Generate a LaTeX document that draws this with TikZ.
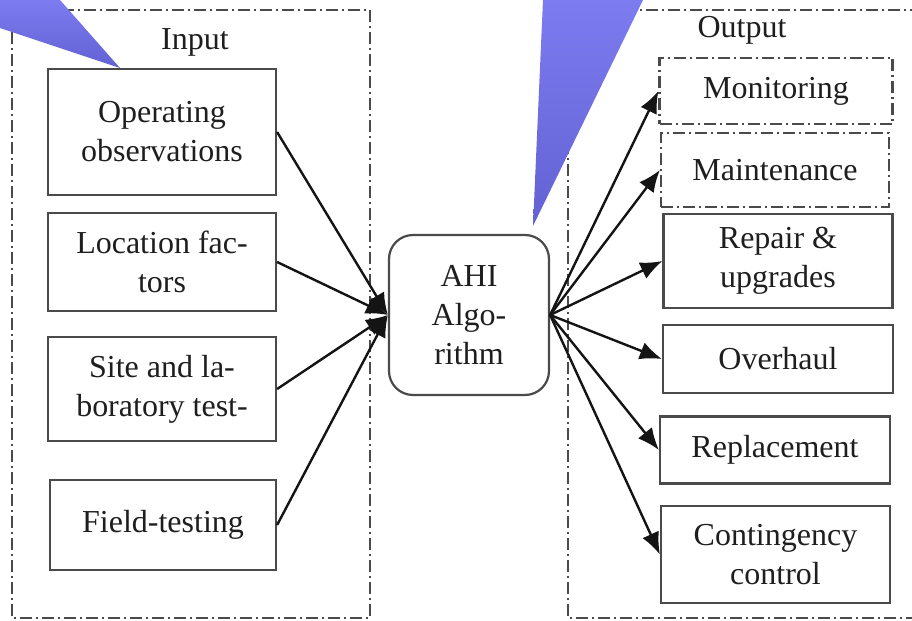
\documentclass[tikz,border=0pt]{standalone}
\usepackage{fontspec}
\setmainfont{Liberation Serif}
\usetikzlibrary{arrows.meta,positioning}
\definecolor{lnGray}{HTML}{141414}
\definecolor{bxGray}{HTML}{4A4A4A}
\definecolor{txGray}{HTML}{1E1E1E}
\definecolor{tailTop}{HTML}{7C7CF0}
\definecolor{tailBot}{HTML}{6262D4}

\begin{document}
\begin{tikzpicture}[x=0.5pt,y=-0.5pt,
  box/.style={draw=bxGray,line width=1.1pt,align=center,text=txGray,
              font=\fontsize{16}{19.5}\selectfont,inner sep=2pt},
  dbox/.style={box,dash pattern=on 6pt off 2pt on 1pt off 2pt},
  grp/.style={draw=bxGray,line width=1pt,dash pattern=on 6pt off 2pt on 1pt off 2pt},
  ttl/.style={text=txGray,font=\fontsize{16}{19.5}\selectfont},
  lnk/.style={lnGray,line width=1.2pt,-{Latex[length=11pt,width=9pt]}}
]
\useasboundingbox (0,0) rectangle (912,621);

% ---- Group frames ------------------------------------------
\draw[grp] (12,10) rectangle (370,618);
\draw[grp] (568,10) rectangle (940,618);
\node[ttl] (inp) at (195,42) {Input};
\node[ttl] (outp) at (742,30) {Output};

% ---- Input nodes -------------------------------------------
\node[box,minimum width=114pt,minimum height=63pt]
  (opr) at (162,132) {Operating\\observations};
\node[box,minimum width=114pt,minimum height=49pt]
  (loc) at (162,262) {Location fac-\\tors};
\node[box,minimum width=114pt,minimum height=52pt]
  (sit) at (162,389) {Site and la-\\boratory test-};
\node[box,minimum width=113pt,minimum height=45pt]
  (fld) at (163,525) {Field-testing};

% ---- Algorithm ---------------------------------------------
\node[box,rounded corners=12pt,minimum width=80pt,minimum height=80pt]
  (ahi) at (469,315) {AHI\\Algo-\\rithm};

% ---- Output nodes ------------------------------------------
\node[dbox,minimum width=116.5pt,minimum height=33pt]
  (mon) at (776,91) {Monitoring};
\node[dbox,minimum width=114pt,minimum height=37pt]
  (mnt) at (775,170) {Maintenance};
\node[box,minimum width=114.5pt,minimum height=47pt]
  (rep) at (778,261) {Repair \&\\upgrades};
\node[box,minimum width=115pt,minimum height=34pt]
  (ovh) at (778,359) {Overhaul};
\node[box,minimum width=115pt,minimum height=33.5pt]
  (rpl) at (775,450) {Replacement};
\node[box,minimum width=114.5pt,minimum height=48.5pt]
  (cnt) at (775.5,554.5) {Contingency\\control};

% ---- Edges -------------------------------------------------
\draw[lnk] (opr.east) -- (ahi.west);
\draw[lnk] (loc.east) -- (ahi.west);
\draw[lnk] (sit.east) -- (ahi.west);
\draw[lnk] (fld.east) -- (ahi.west);

\draw[lnk] (ahi.east) -- (mon.west);
\draw[lnk] (ahi.east) -- (mnt.west);
\draw[lnk] (ahi.east) -- (rep.west);
\draw[lnk] (ahi.east) -- (ovh.west);
\draw[lnk] (ahi.east) -- (rpl.west);
\draw[lnk] (ahi.east) -- (cnt.west);

% ---- Callout tails -----------------------------------------
\shade[top color=tailTop,bottom color=tailBot]
  (0,0) -- (60,0) -- (120,68) -- (0,28) -- cycle;
\shade[top color=tailTop,bottom color=tailBot]
  (543,0) -- (643,0) -- (533,226) -- cycle;

\end{tikzpicture}
\end{document}
